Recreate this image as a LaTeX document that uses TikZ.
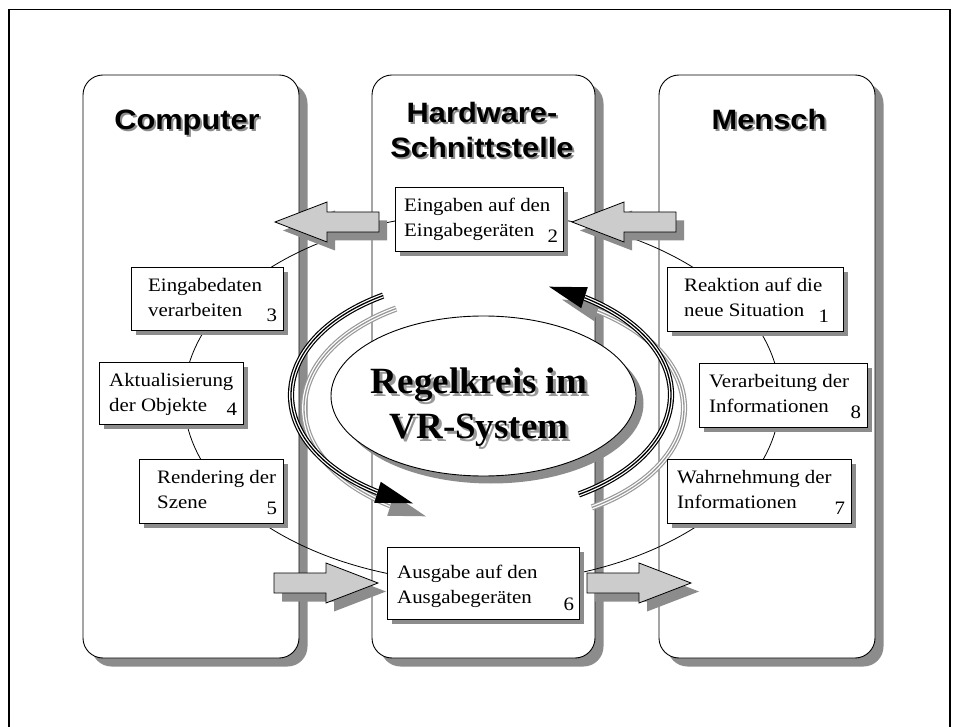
\documentclass[tikz,border=0pt]{standalone}
\usepackage{fontspec}
\setmainfont{Liberation Serif}
\newfontfamily\boxfont{Liberation Serif}[FakeStretch=1.1]
\newfontfamily\titlefont{Liberation Sans}[FakeStretch=1.1]
\usetikzlibrary{calc,positioning,shapes.geometric,shadows}

\begin{document}
\begin{tikzpicture}[x=1pt, y=1pt,
lane/.style={rectangle, draw, line width=0.9pt, fill=white, rounded corners=20pt,
  minimum width=216pt, minimum height=583pt,
  drop shadow={shadow xshift=8.5pt, shadow yshift=-8.5pt, fill=black!45, opacity=1}},
lanetitle/.style={anchor=base, inner sep=0pt, align=center,
  font=\titlefont\bfseries\fontsize{28}{35}\selectfont},
stepbox/.style={rectangle, draw, line width=0.8pt, fill=white, anchor=north west, inner sep=0pt,
  drop shadow={shadow xshift=5pt, shadow yshift=-5pt, fill=black!45, opacity=1}},
steptext/.style={anchor=north west, inner sep=0pt, align=left, font=\boxfont\fontsize{19}{25}\selectfont},
stepnum/.style={anchor=base, inner sep=0pt, font=\boxfont\fontsize{19}{25}\selectfont},
hub/.style={ellipse, draw, line width=0.9pt, fill=white, minimum width=305pt, minimum height=160pt,
  drop shadow={shadow xshift=7.5pt, shadow yshift=-7.5pt, fill=black!45, opacity=1}},
hubtext/.style={anchor=north, inner sep=0pt, align=center, font=\bfseries\fontsize{37}{45}\selectfont},
ring/.style={line width=0.8pt},
triple/.style={draw=#1, line width=1.3pt, preaction={draw=#1, line width=6.2pt},
  preaction={draw=white, line width=3.8pt}},
blockarrow/.style={draw, line width=0.8pt, fill=black!20, line join=miter,
  drop shadow={shadow xshift=8pt, shadow yshift=-8.5pt, fill=black!45, opacity=1}}]

\useasboundingbox (0,0) rectangle (959,-727);

%% local variables
\def \cx {481}
\def \cy {-395}

%% frame
\draw[line width=1.4pt] (9,-727) -- (9,-9.5) -- (950,-9.5) -- (950,-727);

%% the three lanes
\node[lane] (computer) at (191,-366.5) {};
\node[lane, minimum width=223pt] (hardware) at (483.5,-366.5) {};
\node[lane] (mensch) at (767,-366.5) {};

%% lane titles, shadow first
\foreach \t/\x/\y/\txt in {computer/187/130/Computer, mensch/769/130/Mensch} {
  \node[lanetitle, text=black!45] (\t-shade) at (\x+2,-\y-2) {\txt};
  \node[lanetitle] (\t-title) at (\x,-\y) {\txt};
}
\node[lanetitle, anchor=north, text=black!45] (hardware-shade) at (484,-104.5) {Hardware-\\Schnittstelle};
\node[lanetitle, anchor=north] (hardware-title) at (482,-102.5) {Hardware-\\Schnittstelle};

%% the loop through all steps
\draw[ring] (482,-398) ellipse [x radius=298, y radius=185];

%% centre
\node[hub] (hub) at (483.5,-396) {};
\node[hubtext, text=black!40] (hub-shade) at (482,-371) {Regelkreis im\\VR-System};
\node[hubtext] (hub-text) at (479,-368) {Regelkreis im\\VR-System};

%% circular arrows, grey copy first
\foreach \sh/\lc/\hc in {13/black!40/black!45, 0/black/black} {
  \begin{scope}[shift={(\sh,-\sh)}]
    % left half, downwards
    \draw[triple=\lc] ([shift={(\cx,\cy)}]121:190 and 116) arc[start angle=121, end angle=237, x radius=190, y radius=116];
    \coordinate (L-b) at ([shift={(\cx,\cy)}]237:190 and 116);
    \coordinate (L-t) at ([shift={(\cx,\cy)}]249:190 and 116);
    \fill[\hc] ($(L-b)!11pt!90:(L-t)$) -- (L-t) -- ($(L-b)!11pt!-90:(L-t)$) -- cycle;
    % right half, upwards
    \draw[triple=\lc] ([shift={(\cx,\cy)}]-59:190 and 116) arc[start angle=-59, end angle=57, x radius=190, y radius=116];
    \coordinate (R-b) at ([shift={(\cx,\cy)}]57:190 and 116);
    \coordinate (R-t) at ([shift={(\cx,\cy)}]69:190 and 116);
    \fill[\hc] ($(R-b)!11pt!90:(R-t)$) -- (R-t) -- ($(R-b)!11pt!-90:(R-t)$) -- cycle;
  \end{scope}
}

%% block arrows between the lanes
\foreach \tx/\ty/\d in {275/222/1, 572/222/1, 378/583/-1, 691/583/-1}
  \draw[blockarrow] (\tx,-\ty) -- ++({52*\d},20) -- ++(0,-10) -- ++({52*\d},0) -- ++(0,-20)
    -- ++({-52*\d},0) -- ++(0,-10) -- cycle;

%% steps: number/x/y/width/height/pad/offset/number shift/text
\foreach \n/\x/\y/\w/\h/\p/\o/\r/\txt in {
  1/667/267/176/64/17/11/20/{Reaktion auf die\\neue Situation},
  2/395/187/168/64/9/11/11/{Eingaben auf den\\Eingabegeräten},
  3/131/267/152/63/17/11/12/{Eingabedaten\\verarbeiten},
  4/99/362/144/62/10/11/12/{Aktualisierung\\der Objekte},
  5/139/459/144/64/18/11/12/{Rendering der\\Szene},
  6/387/547/192/72/10/18/11/{Ausgabe auf den\\Ausgabegeräten},
  7/667/459/184/64/10/11/12/{Wahrnehmung der\\Informationen},
  8/699/363/168/64/10/11/12/{Verarbeitung der\\Informationen}} {
  \node[stepbox, minimum width=\w pt, minimum height=\h pt] (S-\n) at (\x,-\y) {};
  \node[steptext] (T-\n) at ([shift={(\p,-\o)}]S-\n.north west) {\txt};
  \node[stepnum] (N-\n) at ([shift={(-\r,9)}]S-\n.south east) {\n};
}

\end{tikzpicture}
\end{document}
